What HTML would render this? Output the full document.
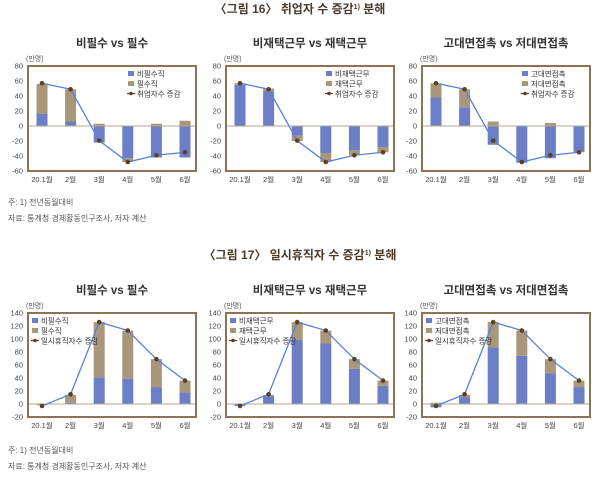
<!DOCTYPE html>
<html><head><meta charset="utf-8">
<style>
body{margin:0;background:#fff;width:600px;height:476px;overflow:hidden;font-family:"Liberation Sans","Noto Sans CJK KR",sans-serif;}
svg text{font-family:"Liberation Sans","Noto Sans CJK KR",sans-serif;}
</style></head><body>
<svg id="s" width="600" height="476" xmlns="http://www.w3.org/2000/svg"></svg>
<script>
const S=document.getElementById('s');let h='';
const BL='#6b7ec6',TN='#a8977a',FR='#8b7355',LN='#5b80d8',DT='#5a4020';
function t(x,y,s,sz,anc,col,w){h+=`<text x="${x}" y="${y}" font-size="${sz}" text-anchor="${anc||'start'}" fill="${col||'#333'}" font-weight="${w||'normal'}">${s}</text>`;}
t(300,13,'〈그림 16〉 취업자 수 증감<tspan font-size="7" dy="-4">1)</tspan><tspan dy="4"> 분해</tspan>',12,'middle','#4a3a2a','bold');
t(300,259,'〈그림 17〉 일시휴직자 수 증감<tspan font-size="7" dy="-4">1)</tspan><tspan dy="4"> 분해</tspan>',12,'middle','#4a3a2a','bold');
const cats=['20.1월','2월','3월','4월','5월','6월'];
function panel(L,top,bot,ymax,ymin,step,title,leg,blue,tan,dots,legLeft){
 const W=168,k=(bot-top)/(ymax-ymin);const Y=v=>top+(ymax-v)*k;const X=i=>L+14+i*28.6;
 t(L+W/2,top-19,title,11.5,'middle','#333','bold');
 t(L-2,top-5,'(만명)',7,'start','#555');
 for(let v=ymax;v>=ymin;v-=step)t(L-5,Y(v)+2.5,v,7.5,'end','#444');
 for(let i=0;i<6;i++){const x=X(i)-5.5;const b=blue[i],c=tan[i];
  h+=`<rect x="${x}" y="${Math.min(Y(0),Y(b))}" width="11" height="${Math.abs(Y(b)-Y(0))}" fill="${BL}"/>`;
  const s0=(c>=0)?Math.max(b,0):Math.min(b,0);
  h+=`<rect x="${x}" y="${Math.min(Y(s0),Y(s0+c))}" width="11" height="${Math.abs(Y(s0+c)-Y(s0))}" fill="${TN}"/>`;
  t(X(i),bot+11,cats[i],7.5,'middle','#444');}
 h+=`<line x1="${L}" x2="${L+W}" y1="${Y(0)}" y2="${Y(0)}" stroke="#b0a590" stroke-width="1"/>`;
 h+=`<polyline points="${dots.map((d,i)=>X(i)+','+Y(d)).join(' ')}" fill="none" stroke="${LN}" stroke-width="1.3"/>`;
 dots.forEach((d,i)=>h+=`<circle cx="${X(i)}" cy="${Y(d)}" r="2.3" fill="${DT}"/>`);
 h+=`<rect x="${L}" y="${top}" width="${W}" height="${bot-top}" fill="none" stroke="${FR}" stroke-width="2"/>`;
 const lx=legLeft?L+4:L+100,ly=top+8;
 h+=`<rect x="${lx}" y="${ly-3}" width="6" height="5" fill="${BL}"/><rect x="${lx}" y="${ly+7}" width="6" height="5" fill="${TN}"/>`;
 h+=`<line x1="${lx-1}" x2="${lx+7}" y1="${ly+19.5}" y2="${ly+19.5}" stroke="${DT}" stroke-width="1.2"/><circle cx="${lx+3}" cy="${ly+19.5}" r="1.8" fill="${DT}"/>`;
 leg.forEach((s,j)=>t(lx+9,ly+2.5+j*10,s,7.5,'start','#333'));
}
const T=66,B=171,T2=313,B2=417;
panel(28,T,B,80,-60,20,'비필수 vs 필수',['비필수직','필수직','취업자수 증감'],[16,6,-22,-43,-42,-42],[40,43,3,-5,3,7],[57,49,-19.5,-48,-39,-35]);
panel(226,T,B,80,-60,20,'비재택근무 vs 재택근무',['비재택근무','재택근무','취업자수 증감'],[55,46,-13,-36,-32,-28],[2,4,-7,-12,-7,-7],[57,49,-19.5,-48,-39,-35]);
panel(422,T,B,80,-60,20,'고대면접촉 vs 저대면접촉',['고대면접촉','저대면접촉','취업자수 증감'],[38,25,-25,-49,-43,-34],[19,24,6,0,4,-1],[57,49,-19.5,-48,-39,-35]);
panel(28,T2,B2,140,-20,20,'비필수 vs 필수',['비필수직','필수직','일시휴직자수 증감'],[0,2,41,39,26,18],[-2,12,85,74,43,18],[-3,15,126,113,69,36],true);
panel(226,T2,B2,140,-20,20,'비재택근무 vs 재택근무',['비재택근무','재택근무','일시휴직자수 증감'],[-3,12,99,93,54,28],[0,2,27,20,15,8],[-3,15,126,113,69,36],true);
panel(422,T2,B2,140,-20,20,'고대면접촉 vs 저대면접촉',['고대면접촉','저대면접촉','일시휴직자수 증감'],[-5,10,87,74,47,26],[2,4,39,39,22,10],[-3,15,126,113,69,36],true);
t(8,205,'주: 1) 전년동월대비',8,'start','#555');
t(8,221,'자료: 통계청 경제활동인구조사, 저자 계산',8,'start','#555');
t(8,453,'주: 1) 전년동월대비',8,'start','#555');
t(8,469,'자료: 통계청 경제활동인구조사, 저자 계산',8,'start','#555');
S.innerHTML=h;
</script>
</body></html>
